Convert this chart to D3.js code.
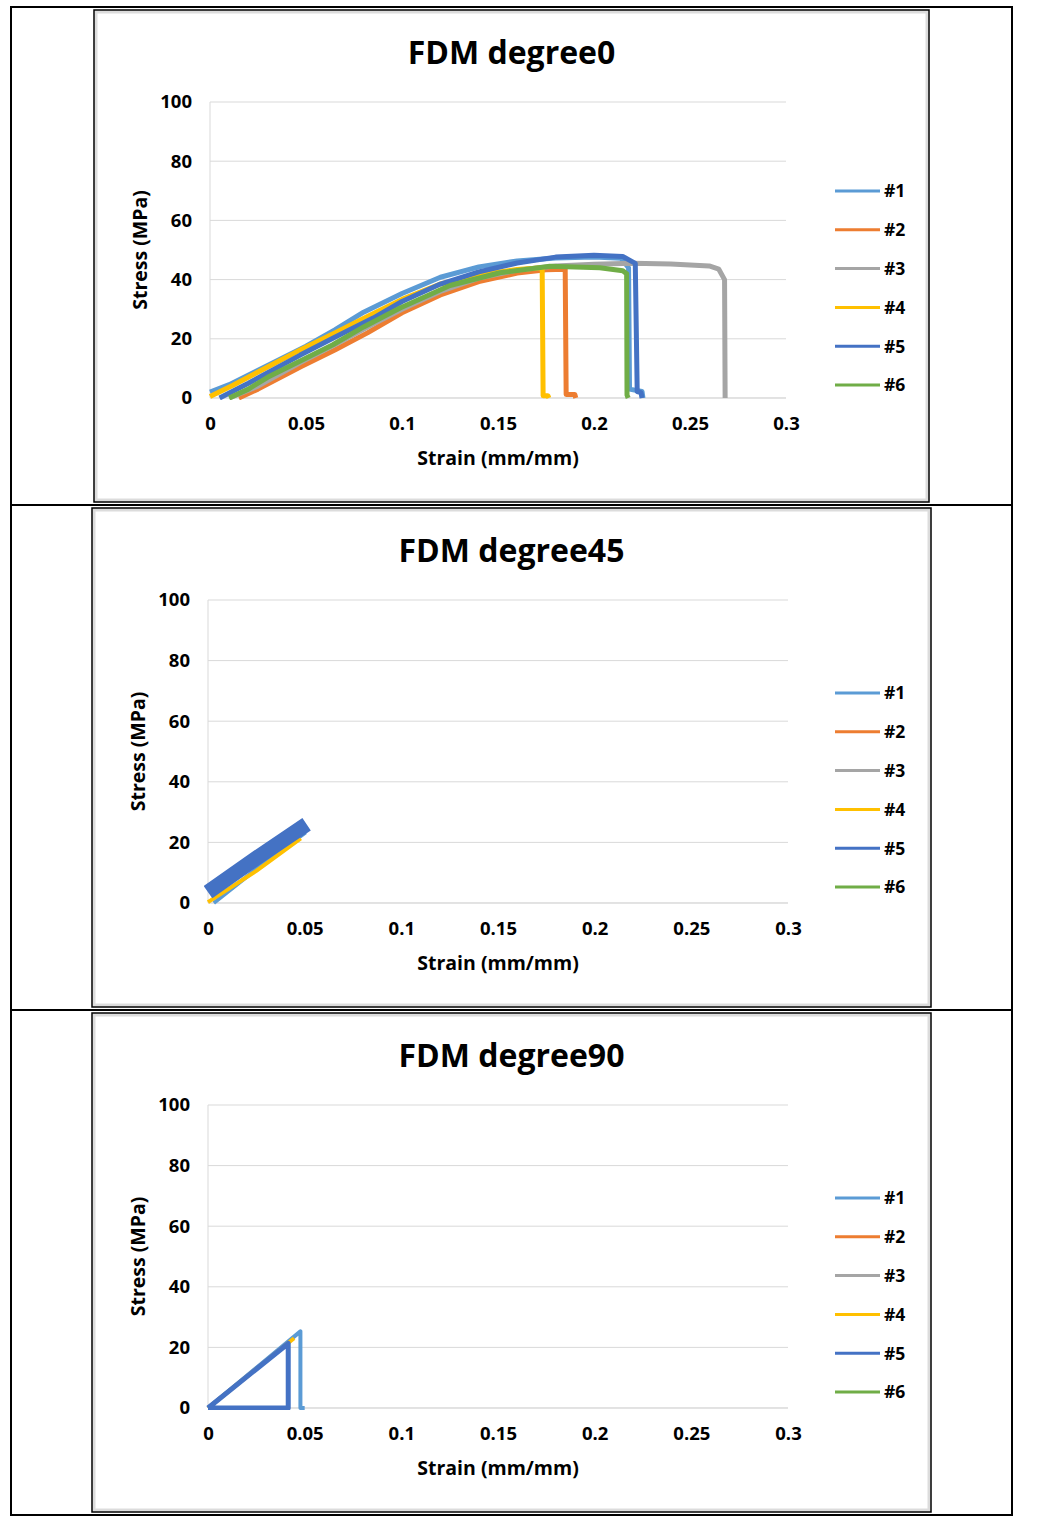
<!DOCTYPE html>
<html>
<head>
<meta charset="utf-8">
<script src="https://cdn.jsdelivr.net/npm/d3@7"></script>
<style>
  html, body { margin: 0; padding: 0; background: #fff; }
  text { font-family: "Open Sans", "Noto Sans", sans-serif; font-weight: 700; fill: #000; }
</style>
</head>
<body>
<svg id="chart" width="1040" height="1520"></svg>
<script>
// ---------------- DATA ----------------
const strainTicks = [0, 0.05, 0.1, 0.15, 0.2, 0.25, 0.3];
const strainTickLabels = ["0", "0.05", "0.1", "0.15", "0.2", "0.25", "0.3"];
const stressTicks = [0, 20, 40, 60, 80, 100];
const stressTickLabels = ["0", "20", "40", "60", "80", "100"];
const seriesNames = ["#1", "#2", "#3", "#4", "#5", "#6"];
const panelTitles = ["FDM degree0", "FDM degree45", "FDM degree90"];
const xAxisTitle = "Strain (mm/mm)";
const yAxisTitle = "Stress (MPa)";

// FDM degree0 : [strain, stress]
const deg0_s1 = [[0,2],[0.01,4.5],[0.03,11],[0.05,17.5],[0.065,23],[0.08,29],[0.1,35.3],[0.12,40.8],[0.14,44.3],[0.16,46.3],[0.18,47.3],[0.2,47.6],[0.214,47.2],[0.218,44],[0.2185,3],[0.225,2.2],[0.2255,0]];
const deg0_s2 = [[0.015,0],[0.025,3],[0.047,10.5],[0.065,16.2],[0.082,22],[0.1,28.8],[0.12,34.8],[0.14,39.3],[0.16,42.2],[0.175,43.3],[0.185,43.5],[0.1855,1.2],[0.19,1.2],[0.1905,0]];
const deg0_s3 = [[0.01,0],[0.025,4],[0.047,12],[0.065,18],[0.085,25],[0.1,30],[0.12,36],[0.14,40.5],[0.16,43.2],[0.18,44.6],[0.2,45.2],[0.22,45.5],[0.24,45.3],[0.26,44.6],[0.265,43.5],[0.268,40],[0.2683,0]];
const deg0_s4 = [[0,0.5],[0.012,4.3],[0.03,10.5],[0.047,16.2],[0.065,22],[0.082,27.5],[0.1,33.3],[0.12,38.5],[0.14,41.6],[0.16,43.4],[0.173,44],[0.1735,0.8],[0.176,0.8],[0.1765,0]];
const deg0_s5 = [[0.005,0],[0.02,5],[0.047,14.5],[0.065,20.5],[0.085,27],[0.1,32.6],[0.12,38.5],[0.14,42.6],[0.16,45.6],[0.18,47.6],[0.2,48.2],[0.215,47.8],[0.2215,45.5],[0.2225,2.2],[0.2245,1.8],[0.225,0]];
const deg0_s6 = [[0.01,0],[0.02,3],[0.03,7],[0.047,12.5],[0.064,18],[0.08,24],[0.099,30.4],[0.125,38],[0.151,42.3],[0.177,44.5],[0.203,44],[0.215,43],[0.217,42],[0.2172,1],[0.2178,0]];

// FDM degree45
const deg45_s1 = [[0.003,0],[0.025,11.2],[0.0505,23.3]];
const deg45_s2 = [];
const deg45_s3 = [];
const deg45_s4 = [[0,0.3],[0.025,10.6],[0.048,21.3]];
const deg45_s5 = [[0,3.6],[0.025,14.8],[0.051,26]];
const deg45_s6 = [];

// FDM degree90
const deg90_s1 = [[0,0],[0.0478,25.3],[0.0478,0],[0.05,0]];
const deg90_s2 = [];
const deg90_s3 = [];
const deg90_s4 = [[0,0],[0.0445,23]];
const deg90_s5 = [[0,0],[0.0415,21.3],[0.0415,0],[0,0]];
const deg90_s6 = [];

// ---------------- STYLE / LAYOUT ----------------
const seriesColors = ["#5B9BD5", "#ED7D31", "#A5A5A5", "#FFC000", "#4472C4", "#70AD47"];
const layouts = [
  { box: [94, 10, 929, 502],  plot: [210, 102, 786, 398],  legendY: 191,  widths: [5,5,5,5,5,5] },
  { box: [92, 508, 931, 1007], plot: [208, 600, 788, 903], legendY: 693,  widths: [4,4,4,4,15,4] },
  { box: [92, 1013, 931, 1512], plot: [208, 1105, 788, 1408], legendY: 1198, widths: [4,4,4,4,5,4] }
];
const panelSeries = [
  [deg0_s1, deg0_s2, deg0_s3, deg0_s4, deg0_s5, deg0_s6],
  [deg45_s1, deg45_s2, deg45_s3, deg45_s4, deg45_s5, deg45_s6],
  [deg90_s1, deg90_s2, deg90_s3, deg90_s4, deg90_s5, deg90_s6]
];

const svg = d3.select("#chart");
svg.append("rect").attr("width", 1040).attr("height", 1520).attr("fill", "#fff");

// outer table lines
const tbl = svg.append("g").attr("stroke", "#000").attr("stroke-width", 2).attr("fill", "none");
tbl.append("rect").attr("x", 11).attr("y", 7).attr("width", 1001).attr("height", 1508);
[505, 1010].forEach(y => tbl.append("line").attr("x1", 11).attr("x2", 1012).attr("y1", y).attr("y2", y));

layouts.forEach((L, pi) => {
  const g = svg.append("g");
  const [bx0, by0, bx1, by1] = L.box;
  const [px0, py0, px1, py1] = L.plot;

  // chart box with light shadow
  g.append("rect").attr("x", bx0 + 2).attr("y", by0 + 2).attr("width", bx1 - bx0 - 4).attr("height", by1 - by0 - 4)
    .attr("fill", "#fff").attr("stroke", "#dcdcdc").attr("stroke-width", 3);
  g.append("rect").attr("x", bx0).attr("y", by0).attr("width", bx1 - bx0).attr("height", by1 - by0)
    .attr("fill", "none").attr("stroke", "#000").attr("stroke-width", 1.5);

  const x = d3.scaleLinear().domain([0, 0.3]).range([px0, px1]);
  const y = d3.scaleLinear().domain([0, 100]).range([py1, py0]);

  // gridlines
  g.append("g").selectAll("line").data(stressTicks).join("line")
    .attr("x1", px0).attr("x2", px1).attr("y1", d => y(d)).attr("y2", d => y(d))
    .attr("stroke", "#d9d9d9").attr("stroke-width", 1);
  g.append("line").attr("x1", px0).attr("x2", px0).attr("y1", py0).attr("y2", py1)
    .attr("stroke", "#d9d9d9").attr("stroke-width", 1);

  // axes
  const xAxis = d3.axisBottom(x).tickValues(strainTicks).tickSize(0).tickPadding(19)
    .tickFormat((d, i) => strainTickLabels[i]);
  const yAxis = d3.axisLeft(y).tickValues(stressTicks).tickSize(0).tickPadding(18)
    .tickFormat((d, i) => stressTickLabels[i]);
  const gx = g.append("g").attr("transform", `translate(0,${py1})`).call(xAxis);
  const gy = g.append("g").attr("transform", `translate(${px0},0)`).call(yAxis);
  [gx, gy].forEach(a => {
    a.select(".domain").remove();
    a.selectAll("text").attr("font-family", "'Open Sans', sans-serif").attr("font-weight", 700)
      .attr("font-size", 18.5).attr("fill", "#000");
  });
  g.append("line").attr("x1", px0).attr("x2", px1).attr("y1", py1).attr("y2", py1)
    .attr("stroke", "#d9d9d9").attr("stroke-width", 1);

  // series
  const line = d3.line().x(d => x(d[0])).y(d => y(d[1]));
  const clip = "clip" + pi;
  g.append("clipPath").attr("id", clip).append("rect")
    .attr("x", px0 - 4).attr("y", py0 - 4).attr("width", px1 - px0 + 8).attr("height", py1 - py0 + 6);
  const sg = g.append("g").attr("clip-path", `url(#${clip})`);
  panelSeries[pi].forEach((data, si) => {
    if (!data.length) return;
    sg.append("path").attr("d", line(data)).attr("fill", "none")
      .attr("stroke", seriesColors[si]).attr("stroke-width", L.widths[si])
      .attr("stroke-linejoin", "round").attr("stroke-linecap", "butt");
  });

  // titles
  g.append("text").attr("x", (bx0 + bx1) / 2).attr("y", by0 + 54).attr("text-anchor", "middle")
    .attr("font-size", 32).text(panelTitles[pi]);
  g.append("text").attr("x", (px0 + px1) / 2).attr("y", py1 + 67).attr("text-anchor", "middle")
    .attr("font-size", 19.5).text(xAxisTitle);
  g.append("text").attr("transform", `translate(${px0 - 63},${(py0 + py1) / 2}) rotate(-90)`)
    .attr("text-anchor", "middle").attr("font-size", 19.5).text(yAxisTitle);

  // legend
  seriesNames.forEach((name, si) => {
    const ly = L.legendY + si * 38.8;
    g.append("line").attr("x1", 835).attr("x2", 880).attr("y1", ly).attr("y2", ly)
      .attr("stroke", seriesColors[si]).attr("stroke-width", 3);
    g.append("text").attr("x", 884).attr("y", ly).attr("dy", "0.36em").attr("font-size", 17.5).text(name);
  });
});
</script>
</body>
</html>
